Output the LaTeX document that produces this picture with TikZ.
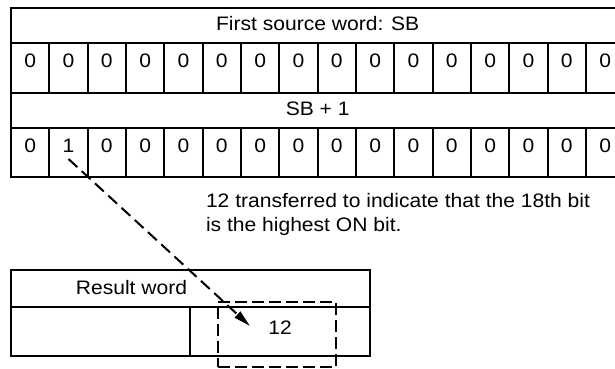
\documentclass[tikz,border=0pt]{standalone}
\usepackage{fontspec}
\setmainfont[FakeStretch=1.08]{Liberation Sans}
\usetikzlibrary{arrows.meta, positioning, fit}

\begin{document}
\begin{tikzpicture}[
		x=1pt, y=-1pt,
		line width=2pt,
		every node/.style={
				inner sep=0pt,
				font=\fontsize{19.5}{23.3}\selectfont
			},
		bitcell/.style={
				draw,
				minimum width=38.33pt,
				text height=14pt, % Lifts the digit above the middle
				text depth=14pt
			},
		wordrow/.style={
				draw,
				minimum width=613pt,
				text height=14pt,
				text depth=3.5pt
			},
		dashlink/.style={dash pattern=on 12pt off 6pt}
	]
	\useasboundingbox (0,0) rectangle (615,369);

	\node[wordrow, minimum height=35pt] (src) at (317.67,25.5) {First source word: SB};
	\foreach \i in {0,...,15} {
			\node[bitcell, minimum height=49.5pt] (a\i) at ({11+38.33*(\i+0.5)},67.75) {0};
		}

	\node[wordrow, minimum height=35.5pt] (srcnext) at (317.67,110.25) {SB + 1};
	\foreach \i in {0,...,15} {
			\pgfmathtruncatemacro\bitval{\i==1 ? 1 : 0}
			\node[bitcell, minimum height=48.5pt] (b\i) at ({11+38.33*(\i+0.5)},152.25) {\bitval};
		}

	\node[anchor=base west, align=left] (note) at (205,231)
	{12 transferred to indicate that the 18th bit\\is the highest ON bit.};

	% Result word
	\node[draw, minimum width=359pt, minimum height=36.7pt] (res) at (190.5,288.35) {};
	\node[text height=14pt, text depth=1.7pt] (restitle) at (131.5,288.35) {Result word};
	\node[draw, minimum width=179pt, minimum height=49pt] (resleft) at (100.5,331.2) {};
	\node[
		draw,
		minimum width=180pt,
		minimum height=49pt,
		text height=14pt,
		text depth=7.4pt
	] (resright) at (280,331.2) {12};

	\node[
		draw,
		dash pattern=on 12pt off 5pt,
		minimum width=117.7pt,
		minimum height=65.6pt
	] (hl) at (277.15,334.5) {};

	\coordinate (from) at ([yshift=-6.75pt]b1.center);
	\coordinate (to) at ([xshift=-30pt, yshift=5.2pt]resright.center);
	\draw[dashlink, -{Triangle[length=17pt, width=8pt]}] (from) -- (to);
\end{tikzpicture}
\end{document}
